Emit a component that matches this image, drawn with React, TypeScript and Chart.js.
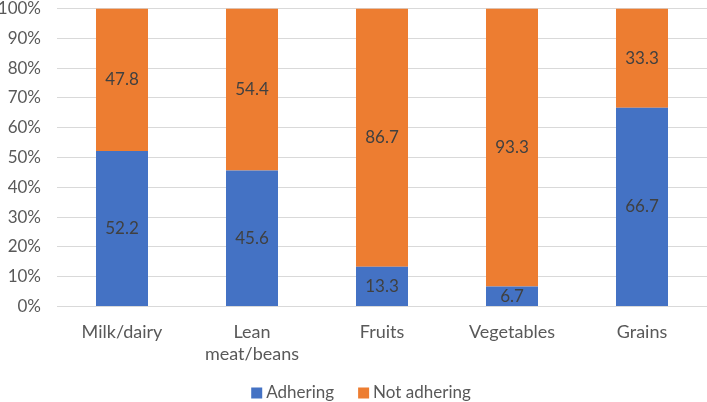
import React, { useEffect, useRef } from "react";
import { Chart, registerables } from "chart.js";

Chart.register(...registerables);

const categories: (string | string[])[] = ["Milk/dairy", ["Lean", "meat/beans"], "Fruits", "Vegetables", "Grains"];
const adhering = [52.2, 45.6, 13.3, 6.7, 66.7];
const notAdhering = [47.8, 54.4, 86.7, 93.3, 33.3];
const seriesNames = ["Adhering", "Not adhering"];
const seriesColors = ["#4472C4", "#ED7D31"];

const FONT = "Lato, 'Open Sans', sans-serif";

const labelPlugin = {
  id: "segLabels",
  afterDatasetsDraw(chart: any) {
    const ctx = chart.ctx;
    ctx.save();
    ctx.font = `17px ${FONT}`;
    ctx.fillStyle = "#404040";
    ctx.textAlign = "center";
    ctx.textBaseline = "middle";
    chart.data.datasets.forEach((ds: any, di: number) => {
      const meta = chart.getDatasetMeta(di);
      meta.data.forEach((bar: any, i: number) => {
        const v = ds.data[i];
        const y = (bar.y + bar.base) / 2;
        ctx.fillText(v.toFixed(1), bar.x, y);
      });
    });
    ctx.restore();
  },
};

const legendPlugin = {
  id: "customLegend",
  afterDraw(chart: any) {
    const ctx = chart.ctx;
    ctx.save();
    ctx.font = `17px ${FONT}`;
    ctx.textBaseline = "middle";
    ctx.textAlign = "left";
    const sq = 11, gap = 4, itemGap = 24;
    const items = chart.data.datasets.map((d: any) => ({ label: d.label, color: d.backgroundColor }));
    const total = items.reduce((acc: number, it: any, i: number) => acc + sq + gap + ctx.measureText(it.label).width + (i > 0 ? itemGap : 0), 0);
    let x = 361 - total / 2;
    const cy = 393;
    items.forEach((it: any) => {
      ctx.fillStyle = it.color;
      ctx.fillRect(x, cy - sq / 2, sq, sq);
      x += sq + gap;
      ctx.fillStyle = "#595959";
      ctx.fillText(it.label, x, cy);
      x += ctx.measureText(it.label).width + itemGap;
    });
    ctx.restore();
  },
};

export default function App() {
  const ref = useRef<HTMLCanvasElement>(null);
  useEffect(() => {
    document.body.style.margin = "0";
    const chart = new Chart(ref.current!, {
      type: "bar",
      data: {
        labels: categories,
        datasets: [
          { label: seriesNames[0], data: adhering, backgroundColor: seriesColors[0], barPercentage: 0.4, categoryPercentage: 1 },
          { label: seriesNames[1], data: notAdhering, backgroundColor: seriesColors[1], barPercentage: 0.4, categoryPercentage: 1 },
        ],
      },
      options: {
        responsive: false,
        animation: false,
        layout: { padding: { top: 8.5, right: 0, left: 0, bottom: 0 } },
        plugins: {
          tooltip: { enabled: false },
          legend: { display: false },
        },
        scales: {
          x: {
            stacked: true,
            grid: { display: false },
            border: { display: false },
            afterFit: (s: any) => { s.height = 95.5; s.paddingLeft = 0; s.paddingRight = 0; },
            ticks: { color: "#595959", font: { family: FONT, size: 18, lineHeight: 1.22 }, padding: 7, maxRotation: 0 },
          },
          y: {
            stacked: true,
            min: 0,
            max: 100,
            afterFit: (s: any) => { s.width = 57; s.paddingTop = 0; s.paddingBottom = 0; },
            grid: { color: "#D9D9D9", drawTicks: false, lineWidth: 1 },
            border: { display: false },
            ticks: {
              stepSize: 10,
              color: "#595959",
              font: { family: FONT, size: 17 },
              padding: 16,
              callback: (v: any) => v + "%",
            },
          },
        },
      },
      plugins: [labelPlugin, legendPlugin],
    });
    return () => chart.destroy();
  }, []);
  return (
    <div style={{ width: 707, height: 402 }}>
      <canvas ref={ref} width={707} height={402} style={{ display: "block" }} />
    </div>
  );
}
